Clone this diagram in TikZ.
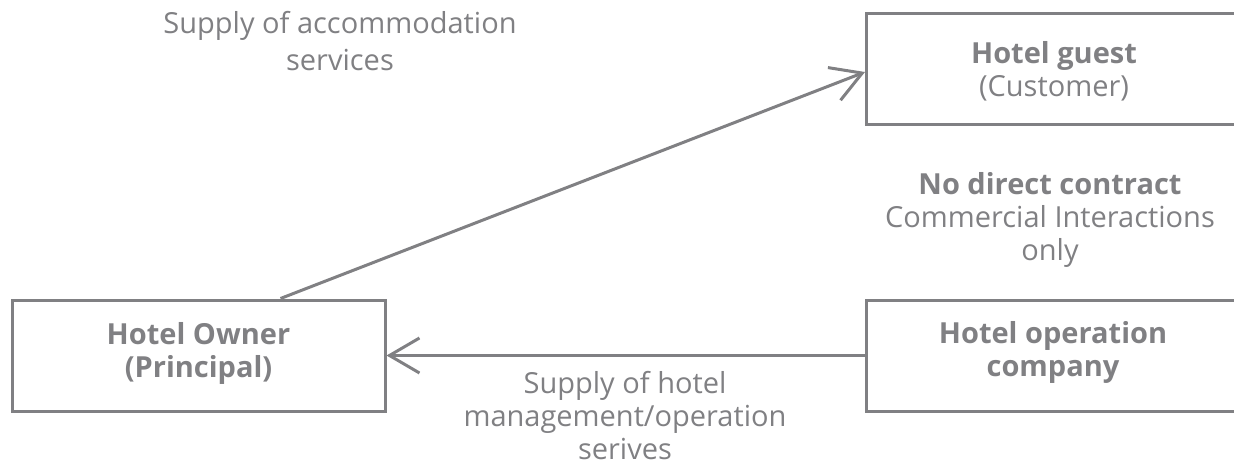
\documentclass[tikz,border=0pt]{standalone}
\usepackage{fontspec}
\setmainfont{Open Sans}
\usetikzlibrary{arrows.meta}
\definecolor{dg}{RGB}{128,128,131}
\tikzset{
  box/.style={draw=dg, line width=3pt, minimum width=373pt, minimum height=111pt, inner sep=0pt},
  lbl/.style={text=dg, align=center, font=\fontsize{29}{33}\selectfont, inner sep=0pt},
  arr/.style={draw=dg, line width=3pt, -{Straight Barb[length=30pt, width=35pt, line width=3pt]}}
}
\begin{document}
\begin{tikzpicture}[x=1pt, y=-1pt]
\useasboundingbox (0,0) rectangle (1234,473);
\node[box] (owner) at (198.5,355.5) {};
\node[box] (guest) at (1053,69) {};
\node[box] (op) at (1053,355.5) {};
\node[lbl, anchor=base] (tguest) at (1054,97) {\textbf{Hotel guest}\\(Customer)};
\node[lbl, anchor=base] (towner) at (198.5,377) {\textbf{Hotel Owner}\\\textbf{(Principal)}};
\node[lbl, anchor=base] (top) at (1053,376) {\textbf{Hotel operation}\\\textbf{company}};
\node[lbl, anchor=base] (tno) at (1050,260) {\textbf{No direct contract}\\Commercial Interactions\\only};
\node[lbl, anchor=base, font=\fontsize{29}{37.5}\selectfont] (tacc) at (340,71) {Supply of accommodation\\services};
\node[lbl, anchor=base] (tmgmt) at (625,459) {Supply of hotel\\management/operation\\serives};
\draw[arr] ([xshift=82pt]owner.north) -- ([yshift=-3pt]guest.west);
\draw[arr] (op.west) -- (owner.east);
\end{tikzpicture}
\end{document}
